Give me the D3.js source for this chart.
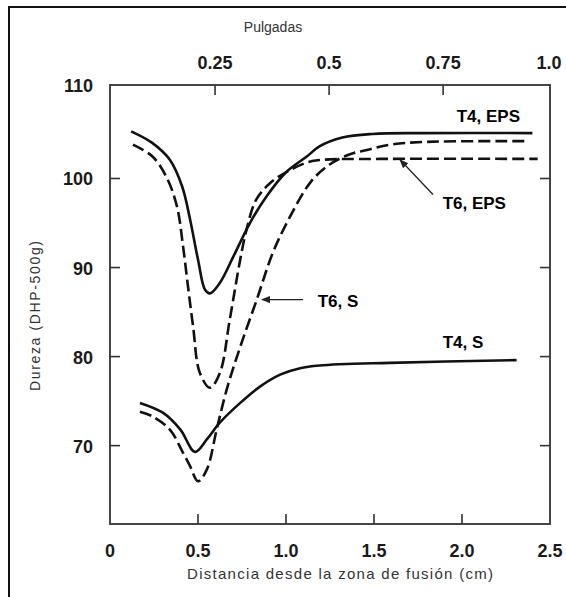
<!DOCTYPE html>
<html>
<head>
<meta charset="utf-8">
<title>Dureza vs distancia</title>
<script src="https://cdn.jsdelivr.net/npm/d3@7"></script>
<style>
    body { margin: 0; background: #fff; }
    svg text { font-family: "Liberation Sans", Arial, sans-serif; }
</style>
</head>
<body>
<svg id="chart" width="566" height="597"></svg>
<script>
// axis ticks
const cmTicks = [0, 0.5, 1.0, 1.5, 2.0, 2.5];
const cmLabels = ["0", "0.5", "1.0", "1.5", "2.0", "2.5"];
const inchTicks = [0.25, 0.5, 0.75, 1.0];
const inchLabels = ["0.25", "0.5", "0.75", "1.0"];
const hardTicks = [70, 80, 90, 100];
const hardLabels = ["70", "80", "90", "100", "110"];

// curves (distance cm, hardness DHP)
const t4epsX = [0.12, 0.24, 0.34, 0.41, 0.455, 0.50, 0.54, 0.568, 0.625, 0.70, 0.795, 0.89, 1.0, 1.12, 1.19, 1.32, 1.49, 1.78, 2.40];
const t4epsY = [105.3, 104.0, 102.1, 99.1, 95.4, 90.9, 87.5, 87.1, 88.3, 91.2, 95.0, 98.0, 100.7, 102.5, 103.6, 104.6, 105.0, 105.1, 105.1];

const t6epsX = [0.13, 0.24, 0.32, 0.38, 0.415, 0.443, 0.472, 0.51, 0.568, 0.625, 0.68, 0.74, 0.78, 0.83, 0.91, 1.0, 1.12, 1.21, 1.53, 2.43];
const t6epsY = [103.8, 102.5, 100.2, 96.9, 92.4, 87.9, 83.4, 78.2, 76.5, 78.2, 84.1, 90.9, 94.6, 97.6, 99.5, 100.7, 101.8, 102.1, 102.2, 102.2];

const t6sX = [0.17, 0.24, 0.34, 0.415, 0.455, 0.50, 0.55, 0.606, 0.663, 0.74, 0.834, 0.926, 1.02, 1.14, 1.25, 1.36, 1.46, 1.59, 1.78, 2.37];
const t6sY = [73.8, 73.3, 71.8, 69.2, 67.7, 66.0, 67.3, 71.8, 76.3, 81.1, 86.4, 91.7, 95.6, 99.6, 101.6, 102.7, 103.2, 103.8, 104.1, 104.2];

const t4sX = [0.17, 0.30, 0.40, 0.483, 0.55, 0.625, 0.74, 0.85, 0.97, 1.08, 1.19, 1.59, 2.31];
const t4sY = [74.8, 73.7, 71.8, 69.3, 70.7, 72.6, 74.8, 76.6, 78.0, 78.7, 79.0, 79.3, 79.6];

const seriesNames = ["T4, EPS", "T6, EPS", "T6, S", "T4, S"];

let svg = d3.select("#chart");
let margin = {top: 85, right: 16, bottom: 73, left: 110};
let width = 566 - margin.left - margin.right;
let height = 597 - margin.top - margin.bottom;

let x = d3.scaleLinear().domain([0, 2.5]).range([margin.left, margin.left + width]);
// the top (inch) scale of the scan sits a little to the left
let xIn = d3.scaleLinear().domain([0, 2.5 / 2.54]).range([margin.left - 9, margin.left + width]);
let y = d3.scaleLinear().domain([61.2, 110.5]).range([margin.top + height, margin.top]);

// outer frame
svg.append("rect")
    .attr("x", 9).attr("y", 7)
    .attr("width", 600).attr("height", 640)
    .attr("fill", "none").attr("stroke", "#111").attr("stroke-width", 2);

// plot box
svg.append("rect")
    .attr("x", margin.left).attr("y", margin.top)
    .attr("width", width).attr("height", height)
    .attr("fill", "none").attr("stroke", "#333").attr("stroke-width", 1.8);

const tickLen = 10;
let g = svg.append("g").attr("stroke", "#333").attr("stroke-width", 1.6);
// bottom & top ticks (pointing inward)
g.selectAll(".bt").data(cmTicks.slice(1, -1)).join("line")
    .attr("x1", d => x(d)).attr("x2", d => x(d))
    .attr("y1", y.range()[0]).attr("y2", y.range()[0] - tickLen);
g.selectAll(".tt").data(inchTicks.slice(0, -1)).join("line")
    .attr("x1", d => xIn(d)).attr("x2", d => xIn(d))
    .attr("y1", y.range()[1]).attr("y2", y.range()[1] + tickLen);
// left & right ticks
g.selectAll(".lt").data(hardTicks).join("line")
    .attr("x1", x(0)).attr("x2", x(0) + tickLen)
    .attr("y1", d => y(d)).attr("y2", d => y(d));
g.selectAll(".rt").data(hardTicks).join("line")
    .attr("x1", x(2.5)).attr("x2", x(2.5) - tickLen)
    .attr("y1", d => y(d)).attr("y2", d => y(d));

// tick labels
let labelStyle = sel => sel.attr("font-size", 18).attr("font-weight", "bold").attr("fill", "#1a1a1a");
svg.selectAll(".xl").data(cmTicks).join("text")
    .attr("x", d => x(d)).attr("y", 557)
    .attr("text-anchor", "middle")
    .call(labelStyle)
    .text((d, i) => cmLabels[i]);
svg.selectAll(".xil").data(inchTicks).join("text")
    .attr("x", d => Math.min(xIn(d), 549)).attr("y", 69)
    .attr("text-anchor", "middle")
    .call(labelStyle)
    .text((d, i) => inchLabels[i]);
svg.selectAll(".yl").data(hardTicks.concat([110])).join("text")
    .attr("x", 93).attr("y", d => d == 110 ? y.range()[1] + 7 : y(d) + 7)
    .attr("text-anchor", "end")
    .call(labelStyle)
    .text((d, i) => hardLabels[i]);

// axis titles
svg.append("text")
    .attr("x", 340).attr("y", 579)
    .attr("text-anchor", "middle")
    .attr("font-size", 15).attr("fill", "#333")
    .attr("textLength", 306).attr("lengthAdjust", "spacing")
    .text("Distancia desde la zona de fusión (cm)");
svg.append("text")
    .attr("x", 273).attr("y", 32)
    .attr("text-anchor", "middle")
    .attr("font-size", 14).attr("fill", "#333")
    .text("Pulgadas");
svg.append("text")
    .attr("transform", "translate(40,316) rotate(-90)")
    .attr("text-anchor", "middle")
    .attr("font-size", 14).attr("fill", "#333")
    .attr("textLength", 150).attr("lengthAdjust", "spacing")
    .text("Dureza (DHP-500g)");

// curves
let line = d3.line()
    .x(d => x(d[0])).y(d => y(d[1]))
    .curve(d3.curveCatmullRom.alpha(0.5));
let zip = (xs, ys) => xs.map((v, i) => [v, ys[i]]);

let curves = [
    {pts: zip(t4epsX, t4epsY), dash: null},
    {pts: zip(t6epsX, t6epsY), dash: "12,5"},
    {pts: zip(t6sX, t6sY), dash: "12,5"},
    {pts: zip(t4sX, t4sY), dash: null}
];
svg.selectAll(".curve").data(curves).join("path")
    .attr("class", "curve")
    .attr("d", d => line(d.pts))
    .attr("fill", "none")
    .attr("stroke", "#111")
    .attr("stroke-width", 2.6)
    .attr("stroke-dasharray", d => d.dash);

// labels and leader arrows
svg.append("defs").append("marker")
    .attr("id", "head").attr("viewBox", "0 0 10 10")
    .attr("refX", 9).attr("refY", 5)
    .attr("markerWidth", 7).attr("markerHeight", 7)
    .attr("orient", "auto")
    .append("path").attr("d", "M0,1 L10,5 L0,9 z").attr("fill", "#222");

let arrows = [
    {from: [1.835, 98.2], to: [1.648, 102.1]},
    {from: [1.097, 86.4], to: [0.864, 86.4]}
];
svg.selectAll(".arrow").data(arrows).join("line")
    .attr("x1", d => x(d.from[0])).attr("y1", d => y(d.from[1]))
    .attr("x2", d => x(d.to[0])).attr("y2", d => y(d.to[1]))
    .attr("stroke", "#222").attr("stroke-width", 1.3)
    .attr("marker-end", "url(#head)");

let labelPos = [[1.97, 106.3], [1.89, 96.6], [1.18, 85.6], [1.89, 81.0]];
svg.selectAll(".slabel").data(seriesNames).join("text")
    .attr("x", (d, i) => x(labelPos[i][0]))
    .attr("y", (d, i) => y(labelPos[i][1]))
    .attr("font-size", 17).attr("font-weight", "bold").attr("fill", "#000")
    .text(d => d);
</script>
</body>
</html>
